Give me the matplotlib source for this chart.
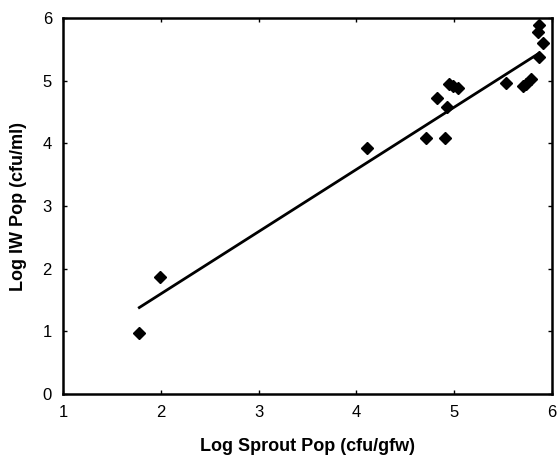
import numpy as np
import matplotlib.pyplot as plt

plt.rcParams['font.family'] = ['Liberation Sans', 'DejaVu Sans']

# Log populations
sprout_pop = [1.78, 1.99, 4.11, 4.71, 4.91, 4.83, 4.93, 4.95, 4.99, 5.04,
              5.53, 5.70, 5.74, 5.79, 5.87, 5.91, 5.86, 5.87]
iw_pop = [0.98, 1.87, 3.93, 4.09, 4.09, 4.72, 4.58, 4.95, 4.91, 4.89,
          4.96, 4.91, 4.94, 5.02, 5.38, 5.60, 5.78, 5.89]

# Regression line end points
fit_x = [1.78, 5.87]
fit_y = [1.38, 5.44]

fig = plt.figure(figsize=(5.58, 4.63), dpi=100)
ax = fig.add_axes([0.113, 0.149, 0.876, 0.812])

ax.plot(fit_x, fit_y, color='black', linewidth=2)
ax.plot(sprout_pop, iw_pop, linestyle='none', marker='D', markersize=6.5,
        color='black')

ax.set_xlim(1, 6)
ax.set_ylim(0, 6)
ax.set_xticks(range(1, 7))
ax.set_yticks(range(0, 7))

for s in ax.spines.values():
    s.set_linewidth(1.8)
ax.tick_params(direction='in', length=3, width=1, top=True, right=True,
               labelsize=12, pad=8)

ax.set_xlabel('Log Sprout Pop (cfu/gfw)', fontsize=13, fontweight='bold',
              labelpad=13)
ax.set_ylabel('Log IW Pop (cfu/ml)', fontsize=13, fontweight='bold',
              labelpad=11)

fig.savefig('out.png', dpi=100)
